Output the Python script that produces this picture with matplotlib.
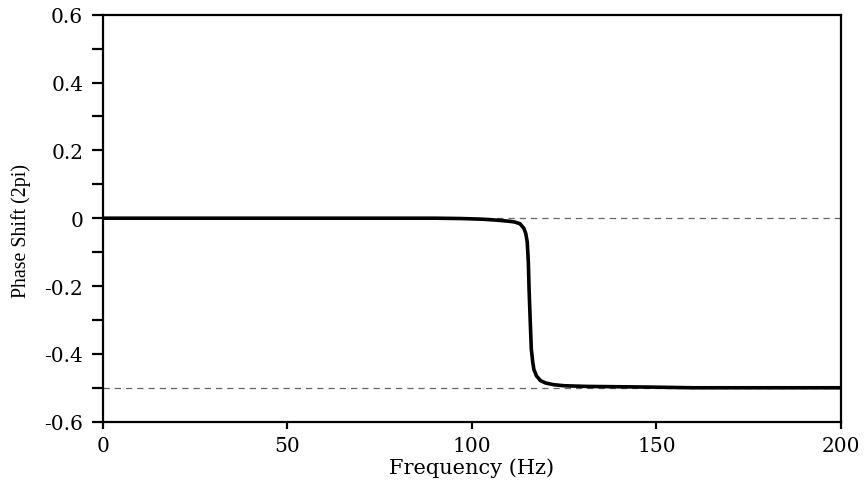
import numpy as np
import matplotlib.pyplot as plt
from matplotlib.ticker import MultipleLocator

plt.rcParams['font.family'] = ['DejaVu Serif']

# values
freq = [0, 20, 40, 60, 80, 90, 97, 103, 107, 110, 111.5, 113, 114.1, 114.6,
        115.0, 115.3, 115.5, 115.8, 116.1, 116.5, 116.8, 117.5, 118.6, 120,
        122.2, 125, 131.3, 140, 148.5, 160, 180, 200]
phase = [0, 0, 0, 0, 0, 0, -0.001, -0.003, -0.006, -0.009, -0.011,
         -0.016, -0.03, -0.045, -0.07, -0.13, -0.21, -0.30, -0.385, -0.425,
         -0.446, -0.465, -0.479, -0.486, -0.491, -0.494, -0.496, -0.497,
         -0.498, -0.5, -0.5, -0.5]
ref_levels = [0, -0.5]

fig = plt.figure(figsize=(8.65, 4.89), dpi=100)
ax = fig.add_axes([0.1187, 0.1356, 0.8536, 0.8323])

for lv in ref_levels:
    ax.plot([0, 200], [lv, lv], color='#666666', lw=0.9, ls=(0, (5, 4)))
ax.plot(freq, phase, color='black', lw=2.6, solid_capstyle='butt')

ax.set_xlim(0, 200)
ax.set_ylim(-0.6, 0.6)
ax.set_xticks([0, 50, 100, 150, 200])
ax.set_yticks([-0.6, -0.4, -0.2, 0, 0.2, 0.4, 0.6])
ax.set_yticklabels(['-0.6', '-0.4', '-0.2', '0', '0.2', '0.4', '0.6'])
ax.yaxis.set_minor_locator(MultipleLocator(0.1))

for s in ax.spines.values():
    s.set_linewidth(1.6)
ax.tick_params(axis='y', which='major', direction='out', length=8, width=1.6,
               labelsize=14.5, pad=6)
ax.tick_params(axis='y', which='minor', direction='out', length=8, width=1.6)
ax.tick_params(axis='x', which='major', direction='out', length=5, width=1.6,
               labelsize=14.5, pad=5)

ax.set_xlabel('Frequency (Hz)', fontsize=15, labelpad=2)
ax.set_ylabel('Phase Shift (2pi)', fontsize=14.3, family=['Liberation Serif'])
ax.yaxis.set_label_coords(-0.097, 0.472)

fig.savefig('out.png', dpi=100)
